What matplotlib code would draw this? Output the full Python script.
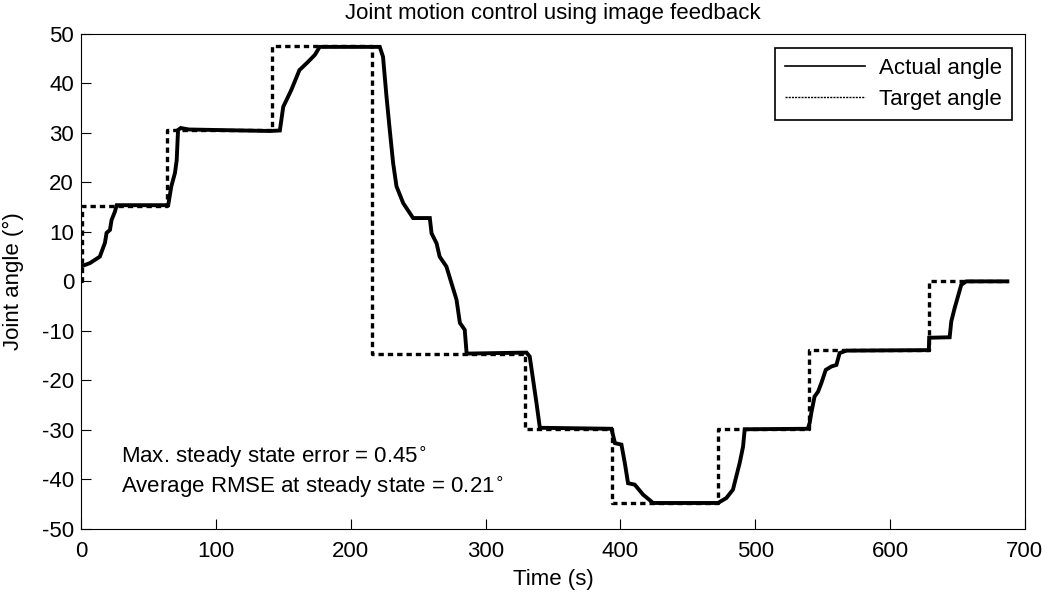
import matplotlib
matplotlib.use("Agg")
import matplotlib.pyplot as plt
from matplotlib.lines import Line2D

plt.rcParams["font.family"] = ["Liberation Sans", "DejaVu Sans"]
plt.rcParams["axes.unicode_minus"] = False

# Target angle: step changes (value holds until next time)
target_t = [0, 1, 64, 142, 216, 329.5, 393.5, 472.5, 540, 629, 687]
target_y = [0, 15.3, 30.7, 47.5, -14.6, -29.8, -44.8, -29.8, -13.8, 0, 0]

# Actual angle
actual_t = [0, 6.7, 14, 17.8, 19, 21.5, 22.7, 25.2, 26.5, 64.7, 67, 69.7, 71, 72, 74,
            80, 140, 147.5, 150, 152.5, 156, 162, 168.5, 173.5, 177, 221.6, 224,
            226.6, 229, 231.5, 234, 239, 246.3, 258.7, 260, 263.7, 266, 271, 274.8,
            278.5, 281, 284.6, 286, 330.4, 332.8, 335.3, 337.8, 340.3, 393.4, 396,
            400.8, 403.3, 405.7, 410.7, 416.8, 424.3, 472.4, 478.6, 483.5, 486, 488.5,
            491, 492.2, 539, 540.4, 541.6, 544, 546.6, 549, 552.3, 556.5, 560.2,
            562.6, 567.6, 628.8, 629, 644.2, 645.4, 647.9, 650.3, 652.8, 656.5, 687]
actual_y = [3.0, 3.7, 5.0, 7.8, 9.8, 10.4, 12.4, 14.1, 15.4, 15.4, 19.2, 21.9, 24.5,
            30.6, 31.0, 30.7, 30.4, 30.5, 35.3, 36.7, 38.7, 42.7, 44.4, 45.8, 47.4,
            47.4, 45.4, 37.3, 30.6, 23.9, 19.2, 15.8, 12.8, 12.8, 9.7, 7.7, 5.0, 3.0,
            -0.4, -3.7, -8.4, -9.8, -14.6, -14.4, -15.2, -19.9, -24.6, -29.6, -29.8,
            -32.7, -33.0, -36.7, -40.8, -41.1, -43.1, -44.8, -44.8, -43.8, -42.1,
            -39.4, -36.7, -33.4, -29.9, -29.8, -28.6, -26.6, -23.3, -22.3, -20.6,
            -17.9, -17.2, -16.9, -14.5, -14.0, -13.9, -11.4, -11.3, -8.1, -5.4, -3.1,
            -0.7, 0.0, 0.0]

FS = 16

fig = plt.figure(figsize=(10.5, 5.97), dpi=100)
ax = fig.add_axes([0.0771, 0.1144, 0.8990, 0.8286])

ax.plot(actual_t, actual_y, color="black", linewidth=2.8, solid_joinstyle="miter")
ax.plot(target_t, target_y, color="black", linewidth=2.4, drawstyle="steps-post",
        dashes=(1.6, 1.2), dash_capstyle="butt")

ax.set_xlim(0, 700)
ax.set_ylim(-50, 50)
ax.set_xticks(range(0, 701, 100))
ax.set_yticks(range(-50, 51, 10))
ax.tick_params(direction="in", length=7, width=0.8, labelsize=FS,
               top=False, right=False)
ax.tick_params(axis="x", pad=9)
ax.tick_params(axis="y", pad=5)
for s in ax.spines.values():
    s.set_linewidth(0.8)

ax.set_title("Joint motion control using image feedback", fontsize=FS, pad=11)
ax.set_xlabel("Time (s)", fontsize=FS, labelpad=5)
ax.set_ylabel("Joint angle (°)", fontsize=FS, labelpad=13)

ax.text(30, -35.5, "Max. steady state error = 0.45$^{\\circ}$", fontsize=FS,
        va="center", ha="left")
ax.text(30, -41.5, "Average RMSE at steady state = 0.21$^{\\circ}$", fontsize=FS,
        va="center", ha="left")

handles = [
    Line2D([], [], color="black", linewidth=1.2, label="Actual angle"),
    Line2D([], [], color="black", linewidth=1.0, linestyle=(0, (1.5, 0.8)),
           label="Target angle"),
]
leg = ax.legend(handles=handles, loc="upper right", fontsize=FS, frameon=True,
                fancybox=False, edgecolor="black", framealpha=1, handlelength=3.6,
                borderpad=0.45, labelspacing=0.45, handletextpad=0.6,
                borderaxespad=0.3, bbox_to_anchor=(0.993, 0.985))
leg.get_frame().set_linewidth(1.2)

fig.savefig("out.png", dpi=100)
